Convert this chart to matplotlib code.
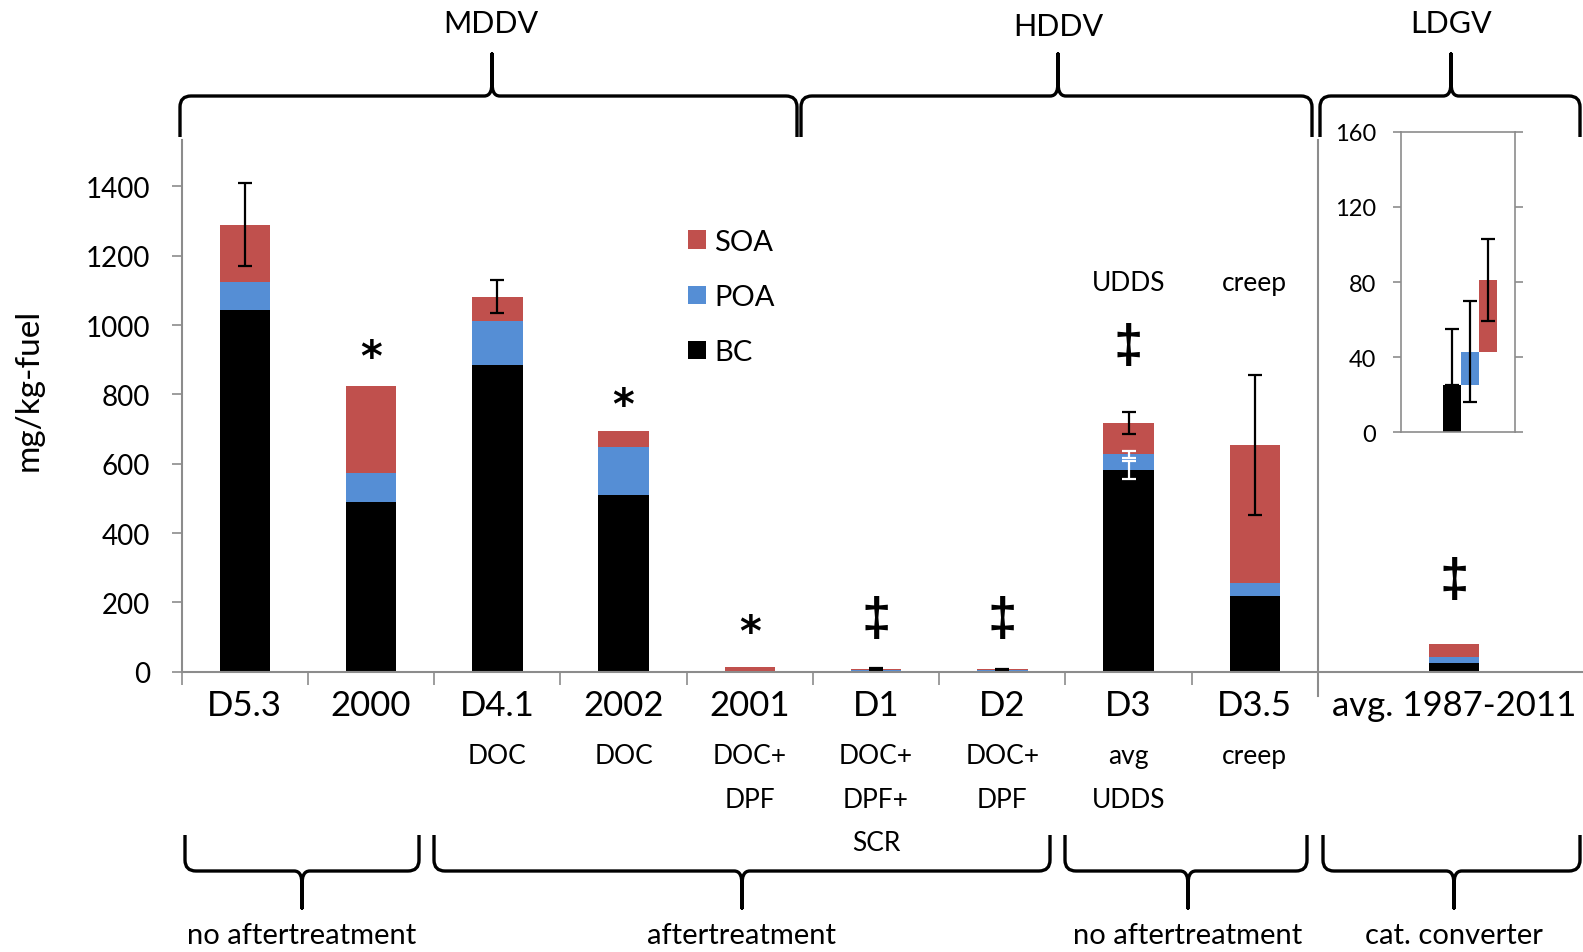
import numpy as np
import matplotlib
matplotlib.use("Agg")
import matplotlib.pyplot as plt
from matplotlib.path import Path
from matplotlib.patches import PathPatch
from matplotlib.transforms import blended_transform_factory

plt.rcParams["font.family"] = ["Lato", "DejaVu Sans"]

# emission factors (mg/kg-fuel), stacked BC / POA / SOA
categories = ["D5.3", "2000", "D4.1", "2002", "2001", "D1", "D2", "D3", "D3.5", "avg. 1987-2011"]
sublabels = ["", "", "DOC", "DOC", "DOC+\nDPF", "DOC+\nDPF+\nSCR", "DOC+\nDPF", "avg\nUDDS", "creep", ""]
bc = [1044, 490, 884, 510, 0.5, 1, 1, 582, 219, 25]
poa = [80, 82, 128, 137, 1, 4, 5, 45, 36, 17]
soa = [165, 252, 70, 47, 12, 4, 1, 90, 399, 38]
soa_err = [120, 0, 47, 0, 0, 3, 1.5, 31, 201, 0]
poa_err_d3 = 10
bc_err_d3 = 27

# LDGV detail (inset)
ldgv_vals = [25, 18, 38]
ldgv_err_lo = [0, 27, 22]
ldgv_err_hi = [30, 27, 22]

# flags above bars: (symbol, category index, y)
flags = [("*", 1, 905), ("*", 3, 766), ("*", 4, 112),
         ("\u2021", 5, 149), ("\u2021", 6, 149), ("\u2021", 7, 937), ("\u2021", 9, 262)]

RED = "#C0504D"
BLUE = "#558ED5"
GREY = "#8c8c8c"

W, H = 1583, 953
fig = plt.figure(figsize=(W / 100, H / 100), dpi=100)


def fx(x):
    return x / W


def fy(y):
    return 1 - y / H


ax = fig.add_axes([fx(181.7), fy(672.7), fx(W - 181.7), 531.4 / H])
xpos = np.array(list(range(9)) + [9.58])
width = 0.4
bc = np.array(bc, float)
poa = np.array(poa, float)
soa = np.array(soa, float)

b1 = ax.bar(xpos, bc, width, color="black", label="BC")
b2 = ax.bar(xpos, poa, width, bottom=bc, color=BLUE, label="POA")
b3 = ax.bar(xpos, soa, width, bottom=bc + poa, color=RED, label="SOA")

top = bc + poa + soa
m = np.array(soa_err) > 0
ax.errorbar(xpos[m], top[m], yerr=np.array(soa_err)[m], fmt="none",
            ecolor="black", elinewidth=1.6, capsize=5, capthick=1.6)
ax.errorbar([xpos[7]], [bc[7] + poa[7]], yerr=poa_err_d3, fmt="none",
            ecolor="white", elinewidth=1.6, capsize=5, capthick=1.6)
ax.errorbar([xpos[7]], [bc[7]], yerr=bc_err_d3, fmt="none",
            ecolor="white", elinewidth=1.6, capsize=5, capthick=1.6)

ax.set_xlim(-0.5, 10.6)
ax.set_ylim(0, 1533)
ax.set_yticks(range(0, 1401, 200))
ax.tick_params(axis="y", direction="out", length=7, width=1.2, color=GREY,
               labelsize=20, pad=16)
ax.set_xticks(np.arange(-0.5, 9, 1))
ax.set_xticklabels([])
ax.tick_params(axis="x", direction="out", length=9, width=1.2, color=GREY)
for s in ["top", "right"]:
    ax.spines[s].set_visible(False)
for s in ["left", "bottom"]:
    ax.spines[s].set_color(GREY)
    ax.spines[s].set_linewidth(1.5)

# separator between diesel and gasoline groups
sep = blended_transform_factory(ax.transData, ax.transAxes)
ax.plot([8.5, 8.5], [-0.045, 1.0], color=GREY, lw=1.5, transform=sep, clip_on=False)

fig.text(fx(29), fy(390), "mg/kg-fuel", rotation=90, ha="center", va="center", fontsize=24)

# category labels and aftertreatment descriptions
lab = blended_transform_factory(ax.transData, fig.transFigure)
for x, c, s in zip(xpos, categories, sublabels):
    ax.text(x, fy(706), c, transform=lab, ha="center", va="center", fontsize=25)
    for k, line in enumerate(s.split("\n") if s else []):
        ax.text(x, fy(757 + 43.5 * k), line, transform=lab, ha="center",
                va="center", fontsize=19)

for sym, i, y in flags:
    if sym == "*":
        ax.text(xpos[i], y, sym, ha="center", va="center", fontsize=30,
                fontweight="bold", family=["DejaVu Sans"])
    else:
        ax.text(xpos[i], y, sym, ha="center", va="center", fontsize=38,
                fontweight="bold", family=["Liberation Sans", "DejaVu Sans"])

ax.text(xpos[7], 1124, "UDDS", ha="center", va="center", fontsize=19)
ax.text(xpos[8], 1124, "creep", ha="center", va="center", fontsize=19)

ax.legend(handles=[b3, b2, b1], loc="upper left", bbox_to_anchor=(fx(688), fy(230)),
          bbox_transform=fig.transFigure, frameon=False, fontsize=21,
          handlelength=0.6, handleheight=0.6, handletextpad=0.3, labelspacing=1.0,
          borderpad=0, borderaxespad=0)

# inset with the gasoline vehicle components
ai = fig.add_axes([fx(1401), fy(433.3), 114 / W, 300.6 / H])
ix = np.arange(3)
bottoms = np.concatenate([[0], np.cumsum(ldgv_vals)[:-1]])
ai.bar(ix, ldgv_vals, 1.0, bottom=bottoms, color=["black", BLUE, RED])
ai.errorbar(ix, bottoms + np.array(ldgv_vals), yerr=[ldgv_err_lo, ldgv_err_hi],
            fmt="none", ecolor="black", elinewidth=1.6, capsize=5, capthick=1.6)
ai.set_xlim(-2.8, 3.5)
ai.set_ylim(0, 160)
ai.set_yticks(range(0, 161, 40))
ai.set_xticks([])
ai.tick_params(axis="y", left=True, right=True, direction="out", length=6,
               width=1.2, color=GREY, labelsize=17, pad=12)
for s in ai.spines.values():
    s.set_color(GREY)
    s.set_linewidth(1.2)


def brace(x0, x1, xt, y_end, y_bar, y_tip, rc=11, rt=8, lw=2.4):
    s = 1 if y_end > y_bar else -1
    pts = [(x0, y_end), (x0, y_bar + s * rc), (x0, y_bar), (x0 + rc, y_bar),
           (xt - rt, y_bar), (xt - 1.5, y_bar), (xt, y_bar - s * 6), (xt, y_bar - s * 14),
           (xt, y_tip), (xt, y_bar - s * 14),
           (xt, y_bar - s * 6), (xt + 1.5, y_bar), (xt + rt, y_bar),
           (x1 - rc, y_bar), (x1, y_bar), (x1, y_bar + s * rc), (x1, y_end)]
    codes = [Path.MOVETO, Path.LINETO, Path.CURVE3, Path.CURVE3,
             Path.LINETO, Path.CURVE4, Path.CURVE4, Path.CURVE4,
             Path.LINETO, Path.LINETO,
             Path.CURVE4, Path.CURVE4, Path.CURVE4,
             Path.LINETO, Path.CURVE3, Path.CURVE3, Path.LINETO]
    verts = [(fx(x), fy(y)) for x, y in pts]
    fig.add_artist(PathPatch(Path(verts, codes), transform=fig.transFigure,
                             fill=False, lw=lw, color="black", capstyle="butt",
                             joinstyle="round"))


# vehicle class braces
brace(180, 797, 492, 138, 97, 55)
brace(801, 1312, 1058, 138, 97, 55)
brace(1320, 1580, 1451, 138, 97, 55)
fig.text(fx(491), fy(24), "MDDV", ha="center", va="center", fontsize=22)
fig.text(fx(1058), fy(27), "HDDV", ha="center", va="center", fontsize=22)
fig.text(fx(1451), fy(24), "LDGV", ha="center", va="center", fontsize=22)

# aftertreatment braces
brace(185, 419, 302, 836, 872, 909)
brace(434, 1050, 742, 836, 872, 909)
brace(1065, 1307, 1188, 836, 872, 909)
brace(1323, 1580, 1454, 836, 872, 909)
for x, t in [(302, "no aftertreatment"), (742, "aftertreatment"),
             (1188, "no aftertreatment"), (1454, "cat. converter")]:
    fig.text(fx(x), fy(936), t, ha="center", va="center", fontsize=21)

fig.savefig("out.png", dpi=100)
